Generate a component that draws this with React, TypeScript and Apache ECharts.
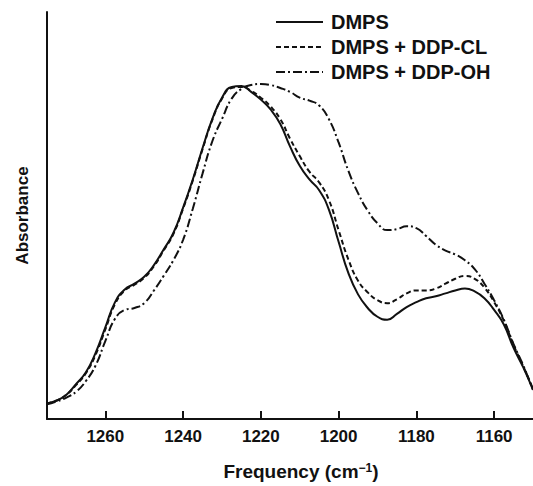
import React, { useEffect, useRef } from "react";
import * as echarts from "echarts";

// Wavenumbers (cm^-1), read every 2.5 cm^-1 along the spectrum
const frequencies = [
  1275, 1272.5, 1270, 1267.5, 1265, 1262.5, 1260, 1257.5, 1255, 1252.5,
  1250, 1247.5, 1245, 1242.5, 1240, 1237.5, 1235, 1232.5, 1230, 1227.5,
  1225, 1222.5, 1220, 1217.5, 1215, 1212.5, 1210, 1207.5, 1205, 1202.5,
  1200, 1197.5, 1195, 1192.5, 1190, 1187.5, 1185, 1182.5, 1180, 1177.5,
  1175, 1172.5, 1170, 1167.5, 1165, 1162.5, 1160, 1157.5, 1155, 1152.5,
  1150,
];

// Absorbance (arbitrary units)
const dmps = [
  16, 19, 25, 36, 48, 68, 94, 120, 133, 139,
  146, 158, 174, 191, 217, 246, 278, 308, 330, 341,
  342, 336, 328, 318, 303, 280, 260, 246, 235, 215,
  182, 150, 128, 114, 105, 102, 108, 115, 120, 124,
  126, 129, 132, 134, 131, 124, 112, 97, 73, 53,
  30,
];

const dmpsDdpCl = [
  16, 19, 25, 35, 47, 66, 92, 118, 132, 138,
  145, 157, 173, 190, 216, 245, 277, 307, 329, 340,
  341, 337, 330, 321, 308, 288, 270, 254, 243, 225,
  194, 164, 142, 130, 122, 119, 123, 129, 132, 132,
  134, 139, 144, 147, 144, 135, 120, 101, 76, 54,
  31,
];

const dmpsDdpOh = [
  15, 18, 22, 28, 39, 55, 80, 103, 112, 114,
  119, 132, 147, 163, 184, 216, 252, 285, 308, 329,
  339, 343, 344, 343, 340, 336, 330, 327, 322, 308,
  284, 255, 232, 214, 201, 194, 195, 198, 196, 188,
  179, 173, 169, 163, 154, 139, 122, 102, 77, 55,
  30,
];

const tickValues = [1260, 1240, 1220, 1200, 1180, 1160];

const seriesNames = ["DMPS", "DMPS + DDP-CL", "DMPS + DDP-OH"];

const INK = "#111";
const FONT = "'Liberation Sans', Arial, sans-serif";

export default function App() {
  const ref = useRef<HTMLDivElement>(null);

  useEffect(() => {
    if (!ref.current) return;
    const chart = echarts.init(ref.current, undefined, { renderer: "svg" });
    const pair = (vals: number[]) => frequencies.map((f, i) => [f, vals[i]]);
    const mk = (name: string, vals: number[], type: any) => ({
      name,
      type: "line",
      data: pair(vals),
      smooth: 0.5,
      symbol: "none",
      showSymbol: false,
      clip: true,
      lineStyle: { color: INK, width: 2, type },
      itemStyle: { color: INK },
    });
    chart.setOption({
      animation: false,
      backgroundColor: "#fff",
      grid: { left: 47, right: 0, top: 12, bottom: 56, containLabel: false },
      legend: {
        orient: "vertical",
        left: 275,
        top: 12,
        padding: 0,
        itemWidth: 47,
        itemHeight: 14,
        itemGap: 5,
        data: seriesNames,
        itemStyle: { opacity: 0 },
        textStyle: {
          color: INK,
          fontFamily: FONT,
          fontSize: 20,
          fontWeight: "bold",
          lineHeight: 20,
          padding: [0, 0, 0, 3],
        },
      },
      xAxis: {
        type: "value",
        inverse: true,
        min: 1150,
        max: 1275,
        name: "Frequency (cm{s|−1})",
        nameLocation: "middle",
        nameGap: 43,
        nameTextStyle: {
          color: INK,
          fontFamily: FONT,
          fontSize: 19,
          fontWeight: "bold",
          padding: [0, 0, 0, 22],
          rich: {
            s: {
              fontSize: 12,
              fontWeight: "bold",
              fontFamily: FONT,
              color: INK,
              verticalAlign: "top",
            },
          },
        },
        axisLine: { show: true, lineStyle: { color: INK, width: 2 } },
        axisTick: {
          show: true,
          inside: true,
          length: 8,
          customValues: tickValues,
          lineStyle: { color: INK, width: 2 },
        },
        axisLabel: {
          show: true,
          customValues: tickValues,
          formatter: (v: number) => String(v),
          margin: 9,
          color: INK,
          fontFamily: FONT,
          fontSize: 17,
          fontWeight: "bold",
        },
        splitLine: { show: false },
      },
      yAxis: {
        type: "value",
        min: 0,
        max: 418,
        name: "Absorbance",
        nameLocation: "middle",
        nameGap: 16,
        nameTextStyle: {
          color: INK,
          fontFamily: FONT,
          fontSize: 17,
          fontWeight: "bold",
        },
        axisLine: { show: true, lineStyle: { color: INK, width: 2 } },
        axisTick: { show: false },
        axisLabel: { show: false },
        splitLine: { show: false },
      },
      series: [
        mk(seriesNames[0], dmps, "solid"),
        mk(seriesNames[1], dmpsDdpCl, [5, 3]),
        mk(seriesNames[2], dmpsDdpOh, [9, 3, 2, 3]),
      ],
    });
    return () => chart.dispose();
  }, []);

  return (
    <div
      ref={ref}
      style={{ position: "absolute", left: 0, top: 0, width: 533, height: 486 }}
    />
  );
}
